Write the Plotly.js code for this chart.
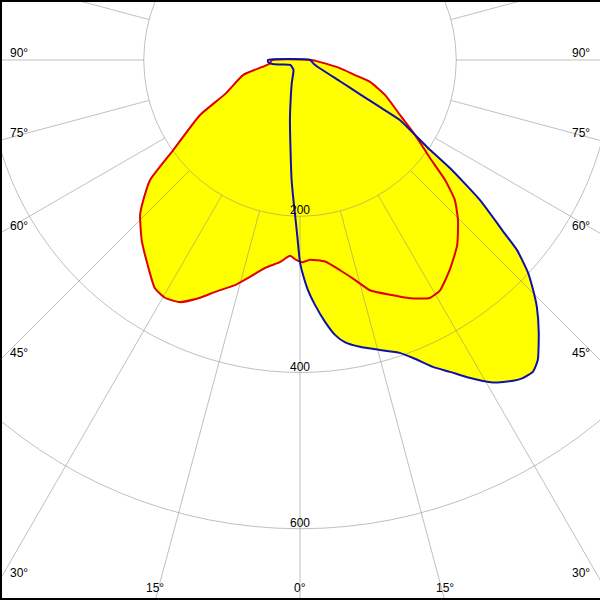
<!DOCTYPE html>
<html>
<head>
<meta charset="utf-8">
<script src="https://cdn.plot.ly/plotly-3.0.1.min.js"></script>
<style>
  html, body { margin: 0; padding: 0; background: #fff; }
  #frame { position: relative; width: 600px; height: 600px; overflow: hidden; background: #fff; }
  #plot { position: absolute; }
  #border { position: absolute; left: 0; top: 0; width: 600px; height: 600px; box-sizing: border-box;
            border-left: 2px solid #000; border-top: 2px solid #000; border-bottom: 2px solid #000; pointer-events: none; }
</style>
</head>
<body>
<div id="frame"><div id="plot"></div><div id="border"></div></div>
<script>
// ---- data (luminous intensity, cd/klm) ----
// C0-C180 plane (red)
const redTheta = [-90, -83.5, -79.6, -75.3, -65.6, -61.2, -54.6, -51.3, -48.2, -45.9, -41.3, -36.6, -32.5, -29.6, -26.4, -22.8, -20.1, -16.1, -13.0, -9.6, -5.7, -2.9, -1.1, 0.6, 2.9, 7.1, 10.8, 14.0, 16.9, 21.0, 24.8, 28.6, 31.3, 35.5, 40.3, 44.6, 47.9, 50.4, 53.0, 56.9, 61.2, 67.6, 72.6, 74.7, 78.5, 84, 90];
const redR     = [36, 39, 49, 75, 105, 146, 199, 246, 269, 285, 307, 327, 346, 350, 346, 330, 316, 300, 285, 270, 260, 251, 256, 259, 256, 260, 274, 290, 308, 322, 336, 347, 345, 330, 311, 288, 267, 241, 208, 176, 146, 118, 94, 73, 52, 26, 15];
// C90-C270 plane (blue)
const blueTheta = [-90, -86.4, -81.9, -77.3, -63.4, -33.8, -19.8, -13.1, -9.5, -6.0, -4.0, -2.7, -1.1, 0, 0.8, 2.0, 3.5, 5.5, 7.3, 9.1, 11.8, 15.4, 18.8, 20.8, 23.4, 25.7, 27.8, 30.9, 33.6, 35.0, 36.8, 38.4, 41.2, 43.8, 45.4, 47.0, 48.8, 49.7, 52.1, 54.2, 55.6, 59.0, 59.5, 60.3, 62.0, 67.2, 75, 90];
const blueR     = [41, 41, 36, 26, 14, 15, 31, 53, 78, 116, 154, 179, 218, 259, 275, 295, 314, 337, 355, 366, 375, 385, 396, 408, 428, 443, 459, 481, 493, 497, 498, 490, 464, 438, 419, 399, 369, 344, 292, 237, 197, 149, 119, 88, 58, 28, 18, 13];

const ringVals   = [200, 400, 600];
const ringLabels = ['200', '400', '600'];
const sideAngles = [90, 75, 60, 45, 30];
const bottomAngles = [-15, 0, 15];

// ---- geometry / style ----
const CX = 300, CY = 60;          // pole position in the visible frame
const K = 0.78125;                 // px per unit
const R_MAX = 800;
const W = 2 * R_MAX * K;           // plot size in px
const plotDiv = document.getElementById('plot');
plotDiv.style.left = (CX - W / 2) + 'px';
plotDiv.style.top = (CY - W / 2) + 'px';
plotDiv.style.width = W + 'px';
plotDiv.style.height = W + 'px';

const FONT = {family: 'Liberation Sans, Arial, sans-serif', size: 12, color: '#000'};
const GRID = 'rgba(140,140,140,0.55)';

function toPaper(px, py) {
  return {x: (px - (CX - W / 2)) / W, y: 1 - (py - (CY - W / 2)) / W};
}
const deg = Math.PI / 180;
const annotations = [];
function addLabel(text, px, py, xanchor) {
  const p = toPaper(px, py);
  annotations.push({text: text, x: p.x, y: p.y, xref: 'paper', yref: 'paper',
    xanchor: xanchor, yanchor: 'middle', showarrow: false, font: FONT});
}
sideAngles.forEach(a => {
  const ly = CY + CX / Math.tan(a * deg);
  addLabel(a + '°', 8, ly - 7, 'left');
  addLabel(a + '°', 592, ly - 7, 'right');
});
bottomAngles.forEach(a => {
  const lx = CX + (600 - CY) * Math.tan(a * deg);
  addLabel(Math.abs(a) + '°', lx, 588, 'center');
});
ringVals.forEach((v, i) => addLabel(ringLabels[i], CX, CY + v * K - 6, 'center'));

function hiddenPolar(bg) {
  return {
    domain: {x: [0, 1], y: [0, 1]},
    bgcolor: bg,
    radialaxis: {range: [0, R_MAX], showgrid: false, showline: false, showticklabels: false, ticks: ''},
    angularaxis: {rotation: -90, direction: 'counterclockwise', showgrid: false, showline: false,
                  showticklabels: false, ticks: ''}
  };
}

const SMOOTH = {shape: 'spline', smoothing: 0.5};
const traces = [
  {type: 'scatterpolar', subplot: 'polar', theta: redTheta, r: redR, mode: 'lines', fill: 'toself',
   fillcolor: '#ffff00', line: Object.assign({width: 0, color: '#ffff00'}, SMOOTH), hoverinfo: 'skip'},
  {type: 'scatterpolar', subplot: 'polar', theta: blueTheta, r: blueR, mode: 'lines', fill: 'toself',
   fillcolor: '#ffff00', line: Object.assign({width: 0, color: '#ffff00'}, SMOOTH), hoverinfo: 'skip'},
  // grid carrier (no visible mark)
  {type: 'scatterpolar', subplot: 'polar2', theta: [0], r: [ringVals[0]], mode: 'markers',
   marker: {opacity: 0}, hoverinfo: 'skip'},
  {type: 'scatterpolar', subplot: 'polar3', theta: redTheta.concat([redTheta[0]]), r: redR.concat([redR[0]]),
   mode: 'lines', line: Object.assign({width: 2, color: '#e00000'}, SMOOTH), hoverinfo: 'skip'},
  {type: 'scatterpolar', subplot: 'polar3', theta: blueTheta.concat([blueTheta[0]]), r: blueR.concat([blueR[0]]),
   mode: 'lines', line: Object.assign({width: 2, color: '#1010a8'}, SMOOTH), hoverinfo: 'skip'}
];

const layout = {
  width: W, height: W,
  margin: {l: 0, r: 0, t: 0, b: 0, pad: 0},
  paper_bgcolor: '#fff',
  showlegend: false,
  polar: hiddenPolar('#fff'),
  polar2: {
    domain: {x: [0, 1], y: [0, 1]},
    bgcolor: 'rgba(0,0,0,0)',
    hole: ringVals[0] / R_MAX,
    radialaxis: {range: [ringVals[0], R_MAX], tickvals: ringVals.slice(1), showgrid: true, gridcolor: GRID,
                 gridwidth: 1, showline: false, showticklabels: false, ticks: ''},
    angularaxis: {rotation: -90, direction: 'counterclockwise', dtick: 15, showgrid: true, gridcolor: GRID,
                  gridwidth: 1, showline: true, linecolor: GRID, linewidth: 1, showticklabels: false, ticks: ''}
  },
  polar3: hiddenPolar('rgba(0,0,0,0)'),
  annotations: annotations
};
Plotly.newPlot(plotDiv, traces, layout, {staticPlot: true, displayModeBar: false});
</script>
</body>
</html>
